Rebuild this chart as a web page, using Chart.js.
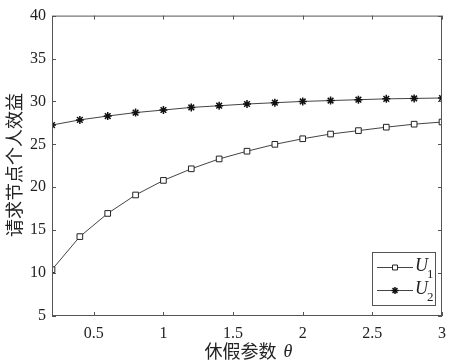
<!DOCTYPE html>
<html>
<head>
<meta charset="utf-8">
<script src="https://cdn.jsdelivr.net/npm/chart.js@4.4.0/dist/chart.umd.min.js"></script>
<style>
  html, body { margin: 0; padding: 0; background: #fff; }
  #wrap { width: 454px; height: 363px; }
</style>
</head>
<body>
<div id="wrap"><canvas id="c" width="454" height="363"></canvas></div>
<script>
  // data
  const theta = [0.2, 0.4, 0.6, 0.8, 1.0, 1.2, 1.4, 1.6, 1.8, 2.0, 2.2, 2.4, 2.6, 2.8, 3.0];
  const u1 = [10.4, 14.25, 16.95, 19.1, 20.8, 22.15, 23.3, 24.2, 25.0, 25.65, 26.2, 26.6, 27.0, 27.35, 27.6];
  const u2 = [27.25, 27.85, 28.3, 28.7, 29.0, 29.3, 29.5, 29.7, 29.85, 30.0, 30.1, 30.2, 30.3, 30.35, 30.4];
  const xTicks = [0.5, 1, 1.5, 2, 2.5, 3];
  const yTicks = [5, 10, 15, 20, 25, 30, 35, 40];

  const serif = "'Liberation Serif', 'Times New Roman', serif";
  const cjk = "'Noto Sans CJK SC', sans-serif";
  const axisColor = "#555";

  const pts = (ys) => theta.map((x, i) => ({ x: x, y: ys[i] }));

  // frame + inward tick marks + legend + titles
  const decor = {
    id: "decor",
    afterDraw(chart) {
      const ctx = chart.ctx;
      const a = chart.chartArea;
      const xs = chart.scales.x, ys = chart.scales.y;
      ctx.save();
      ctx.strokeStyle = axisColor;
      ctx.lineWidth = 1;
      ctx.strokeRect(a.left + 0.5, a.top + 0.5, a.right - a.left - 1, a.bottom - a.top - 1);
      ctx.beginPath();
      for (const t of xTicks) {
        const px = Math.round(xs.getPixelForValue(t)) + 0.5;
        ctx.moveTo(px, a.bottom); ctx.lineTo(px, a.bottom - 4);
        ctx.moveTo(px, a.top); ctx.lineTo(px, a.top + 4);
      }
      for (const t of yTicks) {
        const py = Math.round(ys.getPixelForValue(t)) + 0.5;
        ctx.moveTo(a.left, py); ctx.lineTo(a.left + 4, py);
        ctx.moveTo(a.right, py); ctx.lineTo(a.right - 4, py);
      }
      ctx.stroke();

      // legend box
      const bx = 372, by = 252, bw = 63, bh = 53;
      ctx.fillStyle = "#fff";
      ctx.fillRect(bx, by, bw, bh);
      ctx.strokeRect(bx + 0.5, by + 0.5, bw, bh);
      const rows = [
        { ds: chart.data.datasets[0], sub: "1", y: by + 15 },
        { ds: chart.data.datasets[1], sub: "2", y: by + 38 }
      ];
      for (const r of rows) {
        ctx.strokeStyle = r.ds.borderColor;
        ctx.lineWidth = 1;
        ctx.beginPath();
        ctx.moveTo(bx + 5, r.y + 0.5); ctx.lineTo(bx + 41, r.y + 0.5);
        ctx.stroke();
        ctx.strokeStyle = r.ds.pointBorderColor;
        ctx.fillStyle = r.ds.pointBackgroundColor;
        ctx.lineWidth = r.ds.pointBorderWidth;
        Chart.helpers.drawPoint(ctx, {
          pointStyle: r.ds.pointStyle, radius: r.ds.pointRadius - 0.5,
          borderWidth: r.ds.pointBorderWidth, rotation: 0
        }, bx + 23, r.y + 0.5);
        ctx.fillStyle = "#222";
        ctx.font = "italic 18px " + serif;
        ctx.textBaseline = "middle";
        ctx.textAlign = "left";
        ctx.fillText("U", bx + 43, r.y - 1);
        ctx.font = "13px " + serif;
        ctx.fillText(r.sub, bx + 55, r.y + 8);
      }

      // x title with italic theta
      ctx.fillStyle = "#222";
      ctx.textBaseline = "middle";
      const t1 = "休假参数 ";
      ctx.font = "18px " + cjk;
      const w1 = ctx.measureText(t1).width;
      ctx.font = "italic 18px " + serif;
      const w2 = ctx.measureText("θ").width;
      const sx = 247 - (w1 + w2) / 2;
      ctx.font = "18px " + cjk;
      ctx.textAlign = "left";
      ctx.fillText(t1, sx, 351);
      ctx.font = "italic 18px " + serif;
      ctx.fillText("θ", sx + w1 + 3, 352);

      // y title
      ctx.translate(14, 165);
      ctx.rotate(-Math.PI / 2);
      ctx.textAlign = "center";
      ctx.font = "18px " + cjk;
      ctx.fillText("请求节点个人效益", 0, 0);
      ctx.restore();
    }
  };

  new Chart(document.getElementById("c"), {
    type: "line",
    data: {
      datasets: [
        {
          label: "U1", data: pts(u1),
          borderColor: "#444", borderWidth: 1,
          pointStyle: "rect", pointRadius: 4,
          pointBorderColor: "#222", pointBackgroundColor: "#fff", pointBorderWidth: 1,
          tension: 0
        },
        {
          label: "U2", data: pts(u2),
          borderColor: "#444", borderWidth: 1,
          pointStyle: "star", pointRadius: 4,
          pointBorderColor: "#111", pointBackgroundColor: "#111", pointBorderWidth: 1.5,
          tension: 0
        }
      ]
    },
    options: {
      responsive: false,
      animation: false,
      events: [],
      layout: { padding: { left: 0, top: 13, right: 11, bottom: 0 } },
      plugins: { legend: { display: false }, tooltip: { enabled: false } },
      scales: {
        x: {
          type: "linear", min: 0.2, max: 3,
          afterBuildTicks: (s) => { s.ticks = xTicks.map(v => ({ value: v })); },
          afterFit: (s) => { s.height = 47; },
          grid: { display: false, drawTicks: false },
          border: { display: false },
          ticks: {
            color: "#222", padding: 8, maxRotation: 0,
            font: { family: serif, size: 16 },
            callback: (v) => String(v)
          }
        },
        y: {
          min: 5, max: 40,
          afterBuildTicks: (s) => { s.ticks = yTicks.map(v => ({ value: v })); },
          afterFit: (s) => { s.width = 52; },
          grid: { display: false, drawTicks: false },
          border: { display: false },
          ticks: {
            color: "#222", padding: 6,
            font: { family: serif, size: 16 }
          }
        }
      }
    },
    plugins: [decor]
  });
</script>
</body>
</html>
